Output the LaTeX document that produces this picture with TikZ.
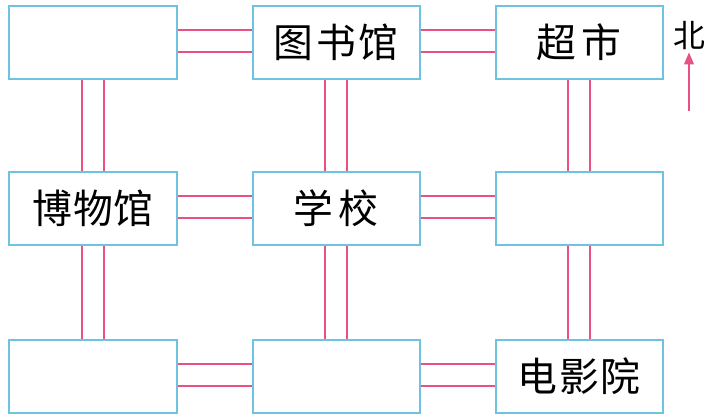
\documentclass[tikz,border=0pt]{standalone}
\usepackage{fontspec}
\newfontfamily\cjk{Noto Sans CJK SC}
\usetikzlibrary{arrows}
\definecolor{boxblue}{RGB}{110,195,225}
\definecolor{roadpink}{RGB}{232,80,135}

\begin{document}
\begin{tikzpicture}[x=1bp,y=-1bp,
		place/.style={draw=boxblue,line width=2bp,minimum width=167bp,minimum height=73bp,inner sep=0pt,font=\cjk\fontsize{40}{48}\selectfont},
		road/.style={draw=roadpink,line width=2.2bp}]
		\useasboundingbox (0,0) rectangle (707,417);
		\draw (93,42) node[place] (nw) {};
		\draw (336,42) node[place] (lib) {图\kern3pt书\kern3pt馆};
		\draw (579,42) node[place] (shop) {超\kern6pt市};
		\draw (93,208) node[place] (mus) {博\kern1pt物\kern1pt馆};
		\draw (336,208) node[place] (school) {学\kern6pt校};
		\draw (579,208) node[place] (east) {};
		\draw (93,376) node[place] (sw) {};
		\draw (336,376) node[place] (south) {};
		\draw (579,376) node[place] (cin) {电\kern2pt影\kern2pt院};
		\foreach \a/\b in {nw/lib,lib/shop,mus/school,school/east,sw/south,south/cin} {
			\draw[road] ([yshift=12bp]\a.east) -- ([yshift=12bp]\b.west);
			\draw[road] ([yshift=-10bp]\a.east) -- ([yshift=-10bp]\b.west);
		}
		\foreach \a/\b in {nw/mus,mus/sw,lib/school,school/south,shop/east,east/cin} {
			\draw[road] ([xshift=-11bp]\a.south) -- ([xshift=-11bp]\b.north);
			\draw[road] ([xshift=11bp]\a.south) -- ([xshift=11bp]\b.north);
		}
		\draw (689,36) node[inner sep=2pt,font=\cjk\fontsize{32}{38}\selectfont] (north) {北};
		\coordinate (tail) at (689,111);
		\draw[-triangle 45,roadpink,line width=1.8bp] (tail) -- (tail|-north.south);
	\end{tikzpicture}
\end{document}
